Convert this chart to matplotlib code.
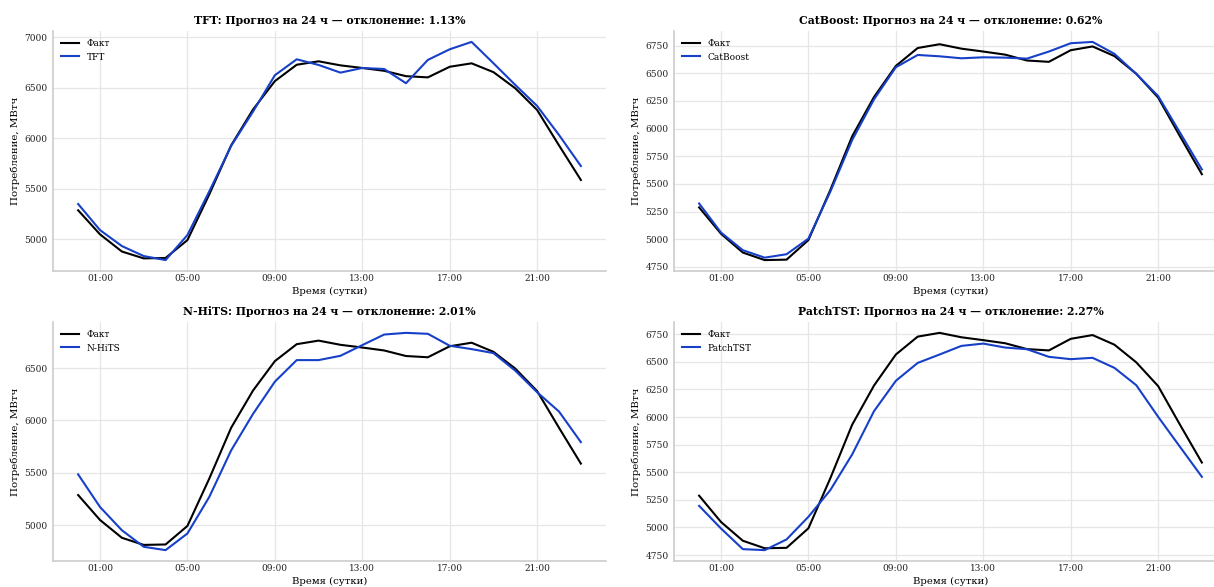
import numpy as np
import pandas as pd
import matplotlib
matplotlib.use("Agg")
import matplotlib.pyplot as plt
import matplotlib.dates as mdates
from matplotlib.ticker import MultipleLocator

hours = pd.date_range("2024-01-01 00:00", periods=24, freq="h")

fact = [5288, 5050, 4880, 4812, 4816, 4993, 5445, 5930, 6285, 6566, 6728, 6762,
        6722, 6696, 6668, 6615, 6603, 6708, 6742, 6655, 6495, 6280, 5930, 5588]

tft = [5350, 5092, 4934, 4835, 4795, 5043, 5475, 5925, 6264, 6624, 6782, 6726,
       6650, 6696, 6686, 6545, 6776, 6881, 6954, 6743, 6528, 6320, 6033, 5726]
catboost = [5323, 5061, 4901, 4834, 4865, 5006, 5429, 5896, 6264, 6554, 6665, 6653,
            6635, 6644, 6641, 6632, 6696, 6771, 6783, 6675, 6494, 6294, 5963, 5631]
nhits = [5485, 5174, 4952, 4794, 4762, 4921, 5270, 5714, 6062, 6370, 6576, 6576,
         6617, 6719, 6820, 6836, 6827, 6713, 6681, 6643, 6475, 6269, 6085, 5793]
patchtst = [5196, 4991, 4804, 4795, 4892, 5097, 5338, 5661, 6053, 6328, 6490, 6566,
            6644, 6665, 6629, 6614, 6545, 6524, 6536, 6445, 6288, 6002, 5730, 5459]

model_names = ["TFT", "CatBoost", "N-HiTS", "PatchTST"]
forecasts = [tft, catboost, nhits, patchtst]
deviations = [1.13, 0.62, 2.01, 2.27]
y_steps = [500, 250, 500, 250]

plt.rcParams["font.family"] = "DejaVu Serif"

fig = plt.figure(figsize=(12.14, 5.87), dpi=100)

# panel rectangles in pixels (right column runs past the edge)
W, H = 1214, 587
rects = [
    (53, 31, 553, 240),
    (674, 31, 553, 240),
    (53, 322, 553, 239),
    (674, 322, 553, 239),
]

for (x0, y0, w, h), name, pred, dev, step in zip(rects, model_names, forecasts,
                                                  deviations, y_steps):
    ax = fig.add_axes([x0 / W, 1 - (y0 + h) / H, w / W, h / H])
    ax.set_facecolor("white")
    ax.plot(hours, fact, color="black", linewidth=1.5, label="Факт")
    ax.plot(hours, pred, color="#1740c8", linewidth=1.5, label=name)

    ax.xaxis.set_major_locator(mdates.HourLocator(byhour=range(1, 24, 4)))
    ax.xaxis.set_major_formatter(mdates.DateFormatter("%H:%M"))
    ax.yaxis.set_major_locator(MultipleLocator(step))

    ax.grid(True, color="#e6e6e6", linewidth=0.9)
    ax.set_axisbelow(True)
    ax.tick_params(length=0, labelsize=6.5, colors="#222222")
    ax.tick_params(axis="x", pad=2)
    ax.tick_params(axis="y", pad=4)
    for side in ["top", "right"]:
        ax.spines[side].set_visible(False)
    for side in ["left", "bottom"]:
        ax.spines[side].set_color("#cccccc")
        ax.spines[side].set_linewidth(1.2)

    ax.set_title(f"{name}: Прогноз на 24 ч — отклонение: {dev:.2f}%",
                 fontsize=7.8, fontweight="bold", pad=5)
    ax.set_xlabel("Время (сутки)", fontsize=7.3, labelpad=3)
    ax.set_ylabel("Потребление, МВтч", fontsize=7.4, labelpad=3)
    ax.legend(loc="upper left", frameon=False, fontsize=6.5)

fig.savefig("out.png", dpi=100)
